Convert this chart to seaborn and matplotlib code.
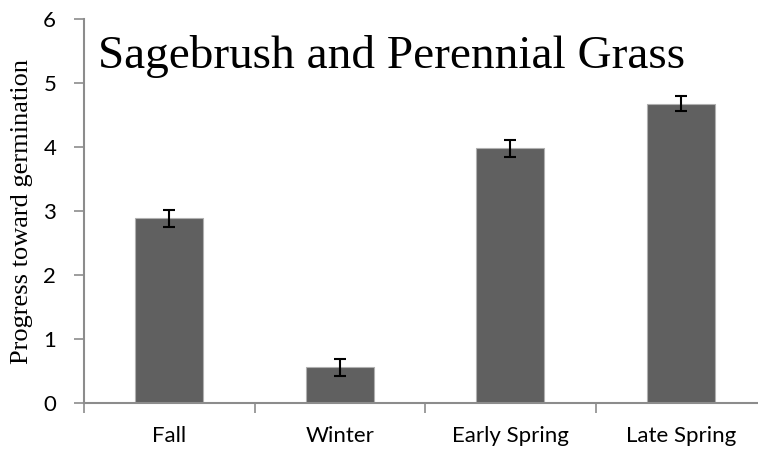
import numpy as np
import pandas as pd
import seaborn as sns
import matplotlib
matplotlib.use("Agg")
import matplotlib.pyplot as plt

seasons = ["Fall", "Winter", "Early Spring", "Late Spring"]
progress = [2.89, 0.56, 3.98, 4.68]
errors = [0.13, 0.13, 0.13, 0.12]

df = pd.DataFrame({"Season": seasons, "Progress": progress})

sns.set_style("white")
fig = plt.figure(figsize=(7.58, 4.55), dpi=100)
ax = fig.add_axes([84 / 758, (455 - 403.3) / 455, (766 - 84) / 758, (403.3 - 19) / 455])

sns.barplot(data=df, x="Season", y="Progress", color="#606060", width=0.4,
            edgecolor="#b0b0b0", linewidth=0.8, saturation=1, ax=ax)
ax.errorbar(np.arange(len(seasons)), progress, yerr=errors, fmt="none",
            ecolor="black", elinewidth=1.5, capsize=4, capthick=1.5)

ax.set_xlim(-0.5, 3.5)
ax.set_ylim(0, 6)
ax.set_yticks(range(7))
ax.set_xticks(range(4))
ax.set_xticklabels(seasons)
ax.set_xticks([-0.5, 0.5, 1.5, 2.5, 3.5], minor=True)
ax.tick_params(axis="x", which="major", length=0, pad=16, labelsize=16, labelcolor="black")
ax.tick_params(axis="x", which="minor", length=7, width=1.2, color="#8c8c8c", direction="out", bottom=True)
ax.tick_params(axis="y", length=7, width=1.2, color="#8c8c8c", direction="out", left=True,
               labelsize=16, pad=13, labelcolor="black")
for lab in ax.get_xticklabels() + ax.get_yticklabels():
    lab.set_fontfamily("Lato")

sns.despine(ax=ax)
for s in ["left", "bottom"]:
    ax.spines[s].set_color("#8c8c8c")
    ax.spines[s].set_linewidth(1.5)

ax.set_xlabel("")
ax.set_ylabel("Progress toward germination", fontfamily="Liberation Serif",
              fontsize=19, labelpad=7, color="black")
ax.text(0.021, 0.873, "Sagebrush and Perennial Grass", transform=ax.transAxes,
        fontfamily="Liberation Serif", fontsize=34, va="baseline", ha="left", color="black")

fig.savefig("out.png", dpi=100)
